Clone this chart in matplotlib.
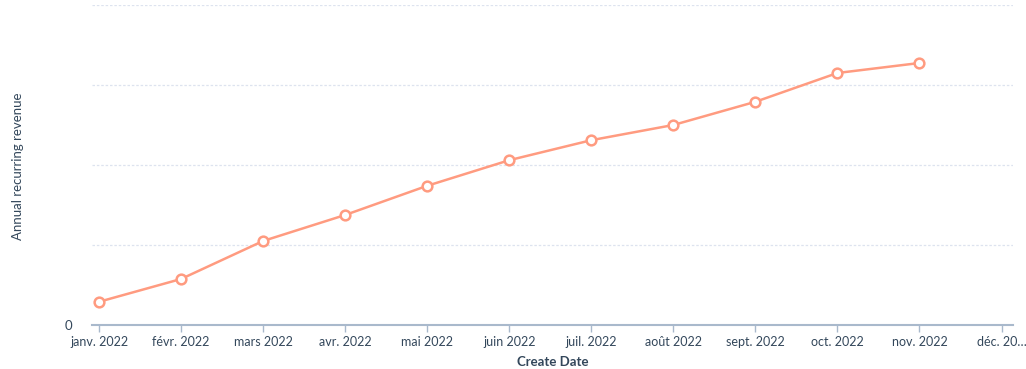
import matplotlib
matplotlib.use("Agg")
import matplotlib.pyplot as plt

months = ["janv. 2022", "févr. 2022", "mars 2022", "avr. 2022", "mai 2022", "juin 2022",
          "juil. 2022", "août 2022", "sept. 2022", "oct. 2022", "nov. 2022", "déc. 20…"]
revenue = [29000, 57500, 105000, 137500, 174000, 206000, 231000, 250000, 279000, 315000, 327500]

line_color = "#ff9b80"
text_color = "#33475b"
axis_color = "#a9b9cc"
grid_color = "#dde3ef"

plt.rcParams['font.family'] = ['Lato', 'DejaVu Sans']

fig = plt.figure(figsize=(10.26, 3.69), dpi=100)
ax = fig.add_axes([92/1026, 44/369, (1013-92)/1026, (325-5)/369])

x = list(range(len(revenue)))
ax.plot(x, revenue, color=line_color, lw=1.8, marker='o', ms=7,
        mfc='white', mec=line_color, mew=1.8, zorder=3, clip_on=False)

ax.set_xlim(-0.085, 11.14)
ax.set_ylim(0, 400000)
ax.set_yticks([0, 100000, 200000, 300000, 400000])
ax.set_yticklabels(["0", "", "", "", ""])
ax.grid(axis='y', color=grid_color, linestyle=(0, (2, 1.5)), lw=0.9)
ax.set_axisbelow(True)

ax.set_xticks(range(len(months)))
ax.set_xticklabels(months, fontsize=9, color=text_color)
ax.tick_params(axis='x', length=5, color=axis_color, width=1, pad=3)
ax.tick_params(axis='y', length=0, labelsize=9.5, labelcolor=text_color, pad=14)

for s in ['top', 'right', 'left']:
    ax.spines[s].set_visible(False)
ax.spines['bottom'].set_color(axis_color)
ax.spines['bottom'].set_linewidth(1.5)

ax.set_xlabel("Create Date", fontsize=9.5, fontweight='bold', color=text_color, labelpad=6)
fig.text(18/1026, 1 - 166/369, "Annual recurring revenue", rotation=90, ha='center', va='center',
         fontsize=9.5, color=text_color)

fig.savefig("out.png", dpi=100)
